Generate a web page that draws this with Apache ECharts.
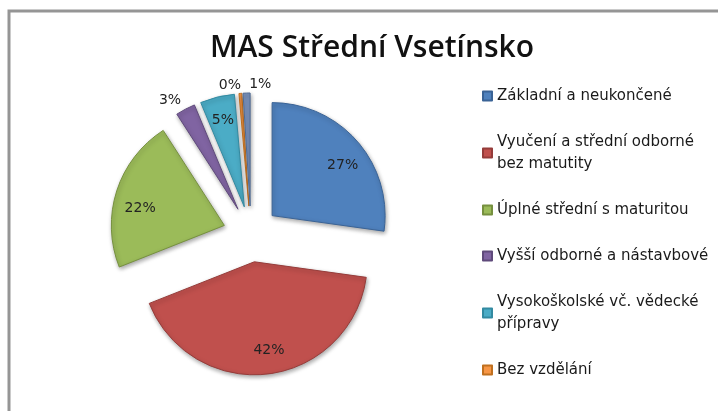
<!DOCTYPE html>
<html>
<head>
<meta charset="utf-8">
<script src="https://cdn.jsdelivr.net/npm/echarts@6/dist/echarts.min.js"></script>
<style>
  html, body { margin: 0; padding: 0; background: #fff; }
  #chart { width: 718px; height: 411px; }
</style>
</head>
<body>
<div id="chart"></div>
<script>
// kategorie vzdělání (poslední výseč v legendě chybí, stejně jako v originále)
var categories = [
  'Základní a neukončené',
  'Vyučení a střední odborné bez matutity',
  'Úplné střední s maturitou',
  'Vyšší odborné a nástavbové',
  'Vysokoškolské vč. vědecké přípravy',
  'Bez vzdělání',
  'Neuvedeno'
]
// podíly v %
var shares = [27.2, 41.8, 21.9, 2.8, 4.9, 0.4, 1.0]
// popisky v legendě (zalomení řádků)
var legendLabels = {
  'Vyučení a střední odborné bez matutity': 'Vyučení a střední odborné\nbez matutity',
  'Vysokoškolské vč. vědecké přípravy': 'Vysokoškolské vč. vědecké\npřípravy'
}
var colors = ['#4F81BD', '#C0504D', '#9BBB59', '#8064A2', '#4BACC6', '#F79646', '#7990BA']
var borders = ['#3a6396', '#953c3a', '#76903f', '#5f4a7b', '#338aa1', '#c0701f', '#4f6a94']
// malé výseče mají popisek venku
var outsideLabel = [false, false, false, true, false, true, true]
// posuny popisků - Excel je nemá přesně ve středu výseče (offset pie ignoruje)
var labelPad = [
  [0, 0, 0, 6],
  [0, 0, 0, 8],
  [0, 0, 0, 2],
  [0, -3, 0, 0],
  [0, 0, 0, 0],
  [0, -6, 0, 0],
  [0, -30, 0, 0]
]
// svislý posun: prázdný řádek před (dolů) nebo za (nahoru)
var labelBreak = ['before', '', 'before', 'after', '', 'after', 'after']
var labelLineHeight = [18, 17, 20, 8, 17, 7, 7]

var chart = echarts.init(document.getElementById('chart'))

var sliceData = categories.map(function (name, i) {
  return {
    name: name,
    value: shares[i],
    selected: true,
    itemStyle: { color: colors[i], borderColor: borders[i] },
    select: { itemStyle: { color: colors[i], borderColor: borders[i] } }
  }
})

var labelData = categories.map(function (name, i) {
  var item = {
    name: name,
    value: shares[i],
    selected: true,
    label: { padding: labelPad[i], lineHeight: labelLineHeight[i] }
  }
  if (outsideLabel[i]) {
    item.label.position = 'outside'
    item.labelLine = { show: false, length: 5, length2: 0 }
  }
  return item
})

var option = {
  animation: false,
  graphic: [{
    type: 'rect',
    shape: { x: 9, y: 11, width: 800, height: 600 },
    style: { fill: 'none', stroke: '#959595', lineWidth: 3 },
    silent: true
  }],
  title: {
    text: 'MAS Střední Vsetínsko',
    left: 367,
    textAlign: 'center',
    top: 28,
    textStyle: {
      fontFamily: 'Open Sans',
      fontWeight: 600,
      fontSize: 30,
      color: '#111'
    }
  },
  legend: {
    orient: 'vertical',
    left: 482,
    top: 85,
    padding: 0,
    itemGap: 24,
    itemWidth: 9,
    itemHeight: 9,
    icon: 'rect',
    selectedMode: false,
    data: categories.slice(0, 6),
    formatter: function (name) {
      return legendLabels[name] || name
    },
    textStyle: {
      fontFamily: 'DejaVu Sans',
      fontSize: 15,
      lineHeight: 22,
      color: '#1a1a1a'
    }
  },
  series: [
    {
      type: 'pie',
      center: [251, 234],
      radius: 113,
      startAngle: 90,
      selectedMode: 'multiple',
      selectedOffset: 28,
      silent: true,
      label: { show: false },
      labelLine: { show: false },
      itemStyle: {
        borderWidth: 1,
        shadowBlur: 4,
        shadowOffsetX: 1,
        shadowOffsetY: 2,
        shadowColor: 'rgba(0,0,0,0.35)'
      },
      emphasis: { disabled: true },
      data: sliceData
    },
    {
      // nese jen popisky s procenty
      type: 'pie',
      center: [251, 234],
      radius: [60, 113],
      startAngle: 90,
      selectedMode: 'multiple',
      selectedOffset: 28,
      silent: true,
      avoidLabelOverlap: false,
      labelLayout: { hideOverlap: false },
      itemStyle: { color: 'rgba(0,0,0,0)' },
      select: { itemStyle: { color: 'rgba(0,0,0,0)', borderWidth: 0 } },
      emphasis: { disabled: true },
      label: {
        show: true,
        position: 'inside',
        fontFamily: 'DejaVu Sans',
        fontSize: 14,
        color: '#222',
        formatter: function (p) {
          var txt = Math.round(p.percent) + '%'
          var br = labelBreak[p.dataIndex]
          if (br === 'before') return '\n' + txt
          if (br === 'after') return txt + '\n'
          return txt
        }
      },
      data: labelData
    }
  ]
}
chart.setOption(option)
</script>
</body>
</html>
